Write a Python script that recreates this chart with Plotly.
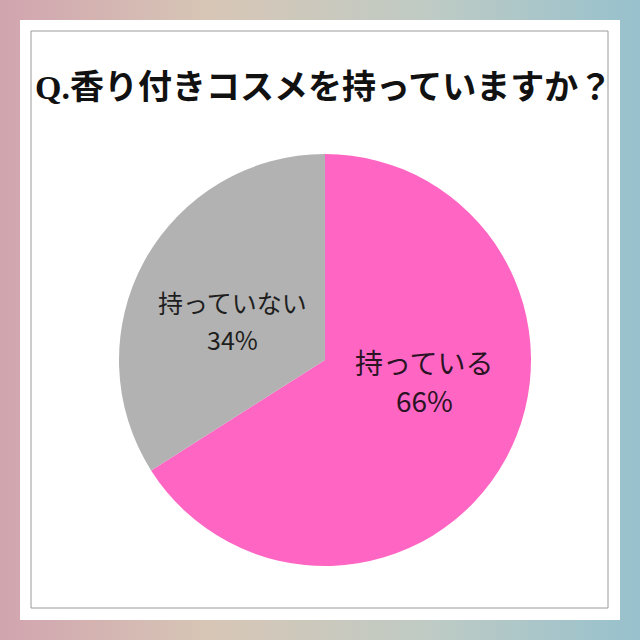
import plotly.graph_objects as go

labels = ["持っている", "持っていない"]
values = [66, 34]
colors = ["#FF66C4", "#B2B2B2"]
title_text = "Q.香り付きコスメを持っていますか？"

W = H = 640

fig = go.Figure()

fig.add_trace(go.Pie(
    labels=labels,
    values=values,
    sort=False,
    direction="clockwise",
    rotation=0,
    marker=dict(colors=colors, line=dict(width=0)),
    textinfo="none",
    hoverinfo="skip",
    showlegend=False,
    domain=dict(x=[119 / W, 531 / W], y=[1 - 566 / H, 1 - 154 / H]),
))

# background gradient (decorative)
stops = [(0.0, (209, 164, 174)), (0.33, (215, 198, 182)), (0.66, (192, 203, 196)), (1.0, (151, 193, 205))]

def col(t):
    for (t0, c0), (t1, c1) in zip(stops[:-1], stops[1:]):
        if t0 <= t <= t1:
            f = (t - t0) / (t1 - t0)
            return "rgb(%d,%d,%d)" % tuple(round(a + (b - a) * f) for a, b in zip(c0, c1))
    return "rgb(%d,%d,%d)" % stops[-1][1]

shapes = []
n = 80
for i in range(n):
    x0 = i / n
    x1 = (i + 1) / n + 0.002
    shapes.append(dict(type="rect", xref="paper", yref="paper", x0=x0, x1=x1, y0=0, y1=1,
                       fillcolor=col((i + 0.5) / n), line=dict(width=0), layer="below"))
shapes.append(dict(type="rect", xref="paper", yref="paper", x0=20 / W, x1=620 / W, y0=1 - 620 / H, y1=1 - 20 / H,
                   fillcolor="white", line=dict(width=0), layer="below"))
shapes.append(dict(type="rect", xref="paper", yref="paper", x0=31 / W, x1=608 / W, y0=1 - 608 / H, y1=1 - 31 / H,
                   fillcolor="rgba(0,0,0,0)", line=dict(width=1, color="#9a9a9a"), layer="below"))

# slice labels (text positions as in the reference)
label_pos = [((424, 362), (424, 400), 28, "#2a1424"), ((232, 302), (232, 339), 25, "#1e1e1e")]
annotations = []
for lab, v, ((lx, ly), (px, py), fs, fc) in zip(labels, values, label_pos):
    annotations.append(dict(text=lab, xref="paper", yref="paper", x=lx / W, y=1 - ly / H,
                            xanchor="center", yanchor="middle", showarrow=False,
                            font=dict(family="Noto Sans CJK JP", size=fs, color=fc)))
    annotations.append(dict(text="%d%%" % v, xref="paper", yref="paper", x=px / W, y=1 - py / H,
                            xanchor="center", yanchor="middle", showarrow=False,
                            font=dict(family="Noto Sans CJK JP", size=fs, color=fc)))

annotations.append(dict(
    text="<b>" + title_text + "</b>",
    xref="paper", yref="paper", x=0.5 + 3 / W, y=1 - 88 / H,
    xanchor="center", yanchor="middle", showarrow=False,
    font=dict(family="Liberation Serif, Noto Sans CJK JP", size=34, color="#111111"),
))

fig.update_layout(
    width=W, height=H,
    margin=dict(l=0, r=0, t=0, b=0),
    paper_bgcolor="white",
    plot_bgcolor="white",
    shapes=shapes,
    annotations=annotations,
)

fig.write_html("out.html", config={"displayModeBar": False},
               post_script="document.body.style.margin='0';document.body.style.overflow='hidden';")
